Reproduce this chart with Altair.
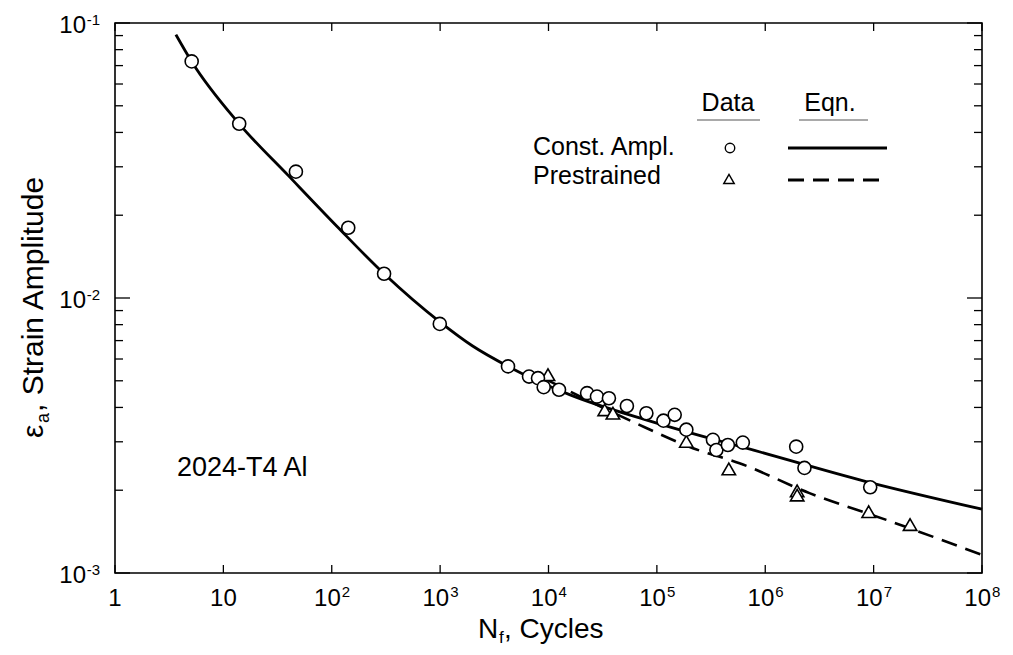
import altair as alt
import pandas as pd

# ---------------- data ----------------
# Constant amplitude test points (circles)
circle_N = [5.1, 14.0, 46.7, 142, 304, 993, 4230, 6610, 8000, 9030, 12500, 22700,
            28000, 36100, 52900, 80000, 115000, 146000, 187000, 329000, 354000,
            452000, 621000, 1.93e6, 2.30e6, 9.3e6]
circle_eps = [0.0725, 0.0430, 0.0288, 0.0180, 0.01225, 0.00805, 0.00564, 0.00518,
              0.00511, 0.00474, 0.00464, 0.00451, 0.00438, 0.00432, 0.00405,
              0.00381, 0.00358, 0.00376, 0.00332, 0.00305, 0.00280, 0.00292,
              0.00298, 0.00288, 0.00241, 0.00205]
# Prestrained test points (triangles)
tri_N = [9890, 33000, 39300, 187000, 461000, 1.97e6, 1.97e6, 9.0e6, 2.17e7]
tri_eps = [0.00526, 0.00392, 0.00381, 0.00301, 0.00239, 0.00199, 0.00192,
           0.00167, 0.00150]
# Equation curve, constant amplitude (solid)
solid_N = [3.65, 5.09, 14.0, 39.8, 112, 304, 993, 1995, 4240, 15850, 79400,
           251000, 668000, 8.53e6, 1e8]
solid_eps = [0.0907, 0.0725, 0.0430, 0.02786, 0.0182, 0.01225, 0.00819,
             0.00669, 0.00564, 0.004445, 0.003604, 0.003158, 0.002844, 0.00215,
             0.001706]
# Equation curve, prestrained (dashed)
dash_N = [10000, 22400, 77100, 2.15e5, 5.79e5, 2.56e6, 1.31e7, 1e8]
dash_eps = [0.00501, 0.00427, 0.00339, 0.002844, 0.002507, 0.001952, 0.00156,
            0.001164]

# Axis ticks and labels
x_major = [1, 10, 1e2, 1e3, 1e4, 1e5, 1e6, 1e7, 1e8]
x_label_base = ["1", "10", "10", "10", "10", "10", "10", "10", "10"]
x_label_sup = ["", "", "2", "3", "4", "5", "6", "7", "8"]
y_major = [0.001, 0.01, 0.1]
y_minor = [0.002, 0.003, 0.004, 0.005, 0.006, 0.007, 0.008, 0.009,
           0.02, 0.03, 0.04, 0.05, 0.06, 0.07, 0.08, 0.09]
y_label_base = ["10", "10", "10"]
y_label_sup = ["-3", "-2", "-1"]

# ---------------- layout / style ----------------
W, H = 867, 550
FONT = "Liberation Sans"
LBL = 24
SUP = 15
TTL = 28
TSUB = 17

xs = alt.Scale(type="log", domain=[1, 1e8], nice=False)
ys = alt.Scale(type="log", domain=[0.001, 0.1], nice=False)


def X(f):
    return alt.X(f, type="quantitative", scale=xs, axis=None)


def Y(f):
    return alt.Y(f, type="quantitative", scale=ys, axis=None)


one = pd.DataFrame({"a": [0]})


def txt(s, x, y, size=22, align="left", baseline="middle", angle=0):
    return alt.Chart(one).mark_text(
        font=FONT, fontSize=size, align=align, baseline=baseline, angle=angle,
        color="black"
    ).encode(x=alt.value(x), y=alt.value(y), text=alt.value(s))


def hrule(x1, x2, y, width=1.0, dash=None, color="black"):
    kw = dict(color=color, strokeWidth=width)
    if dash:
        kw["strokeDash"] = dash
    return alt.Chart(one).mark_rule(**kw).encode(
        x=alt.value(x1), x2=alt.value(x2), y=alt.value(y))


layers = []

# ticks (drawn inward)
ymaj = pd.DataFrame({"v": y_major})
ymin = pd.DataFrame({"v": y_minor})
xmaj = pd.DataFrame({"v": x_major})
for d, ln in ((ymaj, 15), (ymin, 8)):
    layers.append(alt.Chart(d).mark_rule(color="black", strokeWidth=1.3).encode(
        y=Y("v"), x=alt.value(0), x2=alt.value(ln)))
    layers.append(alt.Chart(d).mark_rule(color="black", strokeWidth=1.3).encode(
        y=Y("v"), x=alt.value(W - ln), x2=alt.value(W)))
layers.append(alt.Chart(xmaj).mark_rule(color="black", strokeWidth=1.3).encode(
    x=X("v"), y=alt.value(H - 8), y2=alt.value(H)))
layers.append(alt.Chart(xmaj).mark_rule(color="black", strokeWidth=1.3).encode(
    x=X("v"), y=alt.value(0), y2=alt.value(8)))

# curves
layers.append(alt.Chart(pd.DataFrame({"N": solid_N, "eps": solid_eps})).mark_line(
    color="black", strokeWidth=2.8, interpolate="monotone").encode(x=X("N"), y=Y("eps")))
layers.append(alt.Chart(pd.DataFrame({"N": dash_N, "eps": dash_eps})).mark_line(
    color="black", strokeWidth=2.6, strokeDash=[16, 9], interpolate="monotone").encode(
    x=X("N"), y=Y("eps")))

# data points
layers.append(alt.Chart(pd.DataFrame({"N": tri_N, "eps": tri_eps})).mark_point(
    shape="triangle-up", size=180, fill="white", stroke="black", strokeWidth=1.6,
    opacity=1, filled=False, fillOpacity=1).encode(x=X("N"), y=Y("eps")))
layers.append(alt.Chart(pd.DataFrame({"N": circle_N, "eps": circle_eps})).mark_point(
    shape="circle", size=170, fill="white", stroke="black", strokeWidth=1.6,
    opacity=1, filled=False, fillOpacity=1).encode(x=X("N"), y=Y("eps")))

# x tick labels
xl = pd.DataFrame({"v": x_major, "b": x_label_base, "s": x_label_sup})
xl_plain = xl[xl["s"] == ""]
xl_pow = xl[xl["s"] != ""]
layers.append(alt.Chart(xl_plain).mark_text(
    font=FONT, fontSize=LBL, align="center", baseline="alphabetic", color="black").encode(
    x=X("v"), y=alt.value(H + 33), text="b:N"))
layers.append(alt.Chart(xl_pow).mark_text(
    font=FONT, fontSize=LBL, align="right", baseline="alphabetic", dx=9, color="black").encode(
    x=X("v"), y=alt.value(H + 33), text="b:N"))
layers.append(alt.Chart(xl_pow).mark_text(
    font=FONT, fontSize=SUP, align="left", baseline="alphabetic", dx=10, color="black").encode(
    x=X("v"), y=alt.value(H + 24), text="s:N"))

# y tick labels
yl = pd.DataFrame({"v": y_major, "b": y_label_base, "s": y_label_sup})
layers.append(alt.Chart(yl).mark_text(
    font=FONT, fontSize=LBL, align="right", baseline="alphabetic", dy=10, color="black").encode(
    y=Y("v"), x=alt.value(-29), text="b:N"))
layers.append(alt.Chart(yl).mark_text(
    font=FONT, fontSize=SUP, align="right", baseline="alphabetic", dy=2, color="black").encode(
    y=Y("v"), x=alt.value(-15), text="s:N"))

# axis titles (with subscripts)
layers.append(txt("N", 363, 615, size=TTL, baseline="alphabetic"))
layers.append(txt("f", 384, 620, size=TSUB, baseline="alphabetic"))
layers.append(txt(", Cycles", 389, 615, size=TTL, baseline="alphabetic"))
layers.append(txt("ε", -72, 415, size=30, baseline="alphabetic", angle=270))
layers.append(txt("a", -66, 400, size=18, baseline="alphabetic", angle=270))
layers.append(txt(", Strain Amplitude", -72, 389, size=30, baseline="alphabetic", angle=270))

# annotation
layers.append(txt("2024-T4 Al", 62, 445, size=27))

# legend (drawn inside the plot)
layers.append(txt("Data", 613, 80, size=25, align="center"))
layers.append(txt("Eqn.", 715, 80, size=25, align="center"))
layers.append(hrule(582, 645, 97, width=1.0, color="#555"))
layers.append(hrule(684, 753, 97, width=1.0, color="#555"))
layers.append(txt("Const. Ampl.", 418, 124, size=25))
layers.append(txt("Prestrained", 418, 153, size=25))
layers.append(alt.Chart(one).mark_point(
    shape="circle", size=90, fill="white", stroke="black", strokeWidth=1.4,
    opacity=1, filled=False, fillOpacity=1).encode(x=alt.value(615), y=alt.value(125)))
layers.append(alt.Chart(one).mark_point(
    shape="triangle-up", size=110, fill="white", stroke="black", strokeWidth=1.4,
    opacity=1, filled=False, fillOpacity=1).encode(x=alt.value(614), y=alt.value(156)))
layers.append(hrule(673, 772, 125, width=2.8))
layers.append(hrule(673, 772, 157, width=2.8, dash=[16, 9]))

chart = alt.layer(*layers).properties(
    width=W, height=H,
    autosize=alt.AutoSizeParams(type="none"),
    padding={"left": 107, "top": 15, "right": 22, "bottom": 74},
).configure_view(stroke="black", strokeWidth=1.6)

chart.save("out.html", embed_options={"renderer": "svg", "actions": False})
